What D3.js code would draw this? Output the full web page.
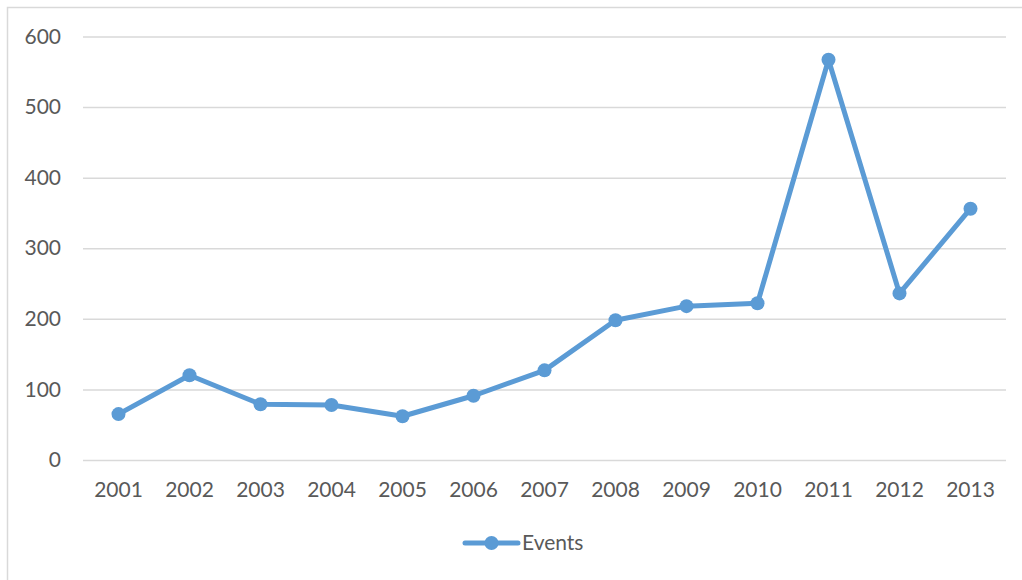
<!DOCTYPE html>
<html>
<head>
<meta charset="utf-8">
<script src="https://cdn.jsdelivr.net/npm/d3@7"></script>
<style>
  body { margin: 0; background: #fff; }
  text { font-family: Lato, "Open Sans", sans-serif; fill: #595959; }
</style>
</head>
<body>
<div id="chart-area"></div>
<script>
const years = ["2001", "2002", "2003", "2004", "2005", "2006", "2007", "2008", "2009", "2010", "2011", "2012", "2013"]
const events = [65, 120, 79, 78, 62, 91, 127, 198, 218, 222, 567, 236, 356]
const yTicks = [0, 100, 200, 300, 400, 500, 600]
const seriesName = "Events"

const W = 1022, H = 580
const MARGIN = { LEFT: 83, RIGHT: 16, TOP: 36.5 }
const WIDTH = W - MARGIN.LEFT - MARGIN.RIGHT
const HEIGHT = 423.5
const FONT = "21px"

const BLUE = "#5B9BD5"

const svg = d3.select("#chart-area").append("svg")
  .attr("width", W)
  .attr("height", H)

// chart border
svg.append("rect")
  .attr("x", 7.5).attr("y", 7.5)
  .attr("width", W - 4).attr("height", H)
  .attr("fill", "none")
  .attr("stroke", "#d9d9d9")
  .attr("stroke-width", 1.5)

const g = svg.append("g")
  .attr("transform", `translate(${MARGIN.LEFT}, ${MARGIN.TOP})`)

const x = d3.scaleBand()
  .domain(years)
  .range([0, WIDTH])

const y = d3.scaleLinear()
  .domain([0, 600])
  .range([HEIGHT, 0])

// gridlines + y labels
const yAxis = d3.axisLeft(y)
  .tickValues(yTicks)
  .tickSize(-WIDTH)
  .tickPadding(22)
g.append("g")
  .attr("class", "y axis")
  .call(yAxis)
  .call(a => a.select(".domain").remove())
  .call(a => a.selectAll("line").attr("stroke", "#d9d9d9").attr("stroke-width", 1.5))
  .call(a => a.selectAll("text").attr("font-size", FONT).style("font-family", "Lato, sans-serif").attr("fill", "#595959"))

// x labels
const xAxis = d3.axisBottom(x).tickSize(0).tickPadding(22)
g.append("g")
  .attr("class", "x axis")
  .attr("transform", `translate(0, ${HEIGHT})`)
  .call(xAxis)
  .call(a => a.select(".domain").remove())
  .call(a => a.selectAll("text").attr("font-size", FONT).style("font-family", "Lato, sans-serif").attr("fill", "#595959"))

const line = d3.line()
  .x((d, i) => x(years[i]) + x.bandwidth() / 2)
  .y(d => y(d))

g.append("path")
  .datum(events)
  .attr("fill", "none")
  .attr("stroke", BLUE)
  .attr("stroke-width", 5)
  .attr("stroke-linejoin", "round")
  .attr("d", line)

g.selectAll("circle.pt")
  .data(events)
  .enter().append("circle")
  .attr("class", "pt")
  .attr("cx", (d, i) => x(years[i]) + x.bandwidth() / 2)
  .attr("cy", d => y(d))
  .attr("r", 7)
  .attr("fill", BLUE)

// legend
const leg = svg.append("g").attr("transform", "translate(465, 543)")
leg.append("line")
  .attr("x1", 0).attr("x2", 53)
  .attr("stroke", BLUE).attr("stroke-width", 5).attr("stroke-linecap", "round")
leg.append("circle").attr("cx", 26.5).attr("r", 7).attr("fill", BLUE)
leg.append("text")
  .attr("x", 57).attr("dy", "0.35em")
  .attr("font-size", FONT)
  .text(seriesName)
</script>
</body>
</html>
